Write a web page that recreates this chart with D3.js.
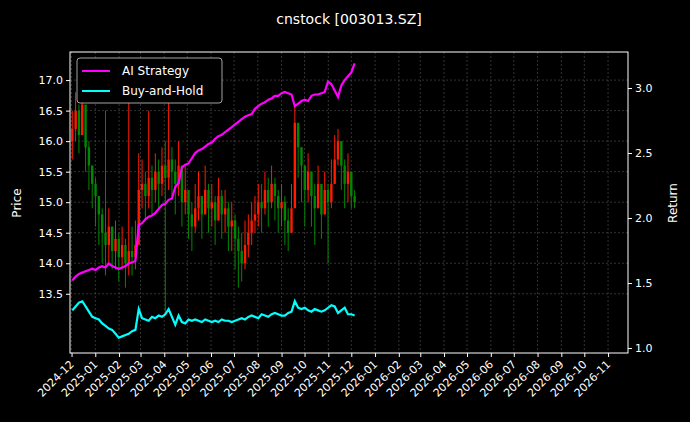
<!DOCTYPE html>
<html><head><meta charset="utf-8">
<script src="https://cdn.jsdelivr.net/npm/d3@7"></script>
<style>body{margin:0;background:#000}svg{display:block}text{font-family:"DejaVu Sans",sans-serif;fill:#fff}</style>
</head><body><svg id="c" width="690" height="422"></svg>
<script>
const startDate = "2024-12-02";
const stepHours = 104;
const closes = [16.2,16.5,16.1,16.6,15.9,15.6,15.3,15.1,14.8,14.5,14.3,14.6,14.2,14.4,14.1,14.3,14.0,14.2,14.1,14.3,15.2,15.3,15.1,15.4,15.2,15.5,15.3,15.6,15.4,15.7,15.5,15.3,15.6,15.0,15.2,14.8,14.6,14.9,15.1,14.8,15.2,14.9,15.0,14.7,15.1,14.8,14.9,14.6,14.7,14.4,14.2,14.0,14.3,14.5,14.7,14.8,15.0,14.9,15.2,15.0,15.3,15.1,14.9,15.0,14.7,14.5,14.9,16.3,15.9,15.6,15.2,15.5,15.1,14.9,15.3,14.8,15.2,15.0,15.3,15.7,16.0,15.6,15.3,15.5,15.1,15.0];
const highs = [16.5,16.8,16.6,16.9,16.2,16.0,15.6,15.4,15.1,14.9,16.5,14.9,14.6,14.7,14.5,14.6,14.4,16.8,14.6,14.7,15.8,15.7,15.5,16.5,15.6,15.8,15.7,15.9,16.0,17.3,15.9,15.7,16.0,15.5,15.6,15.2,15.0,15.3,15.5,15.1,15.6,15.3,15.3,15.1,15.4,15.2,15.2,15.0,15.0,14.8,14.6,14.5,14.7,14.8,15.0,15.1,15.3,15.3,15.5,15.4,15.6,15.4,15.2,15.3,15.1,14.9,15.3,16.6,16.2,15.9,15.5,15.8,15.4,15.3,15.6,15.2,15.5,15.3,15.7,16.1,16.2,15.9,15.7,15.8,15.4,15.2];
const lows = [15.7,16.0,15.8,16.1,15.5,15.2,14.9,14.6,14.3,14.0,13.8,14.0,13.9,13.9,13.7,13.9,13.6,13.8,13.8,13.9,14.8,14.9,14.7,14.9,14.8,15.0,14.9,15.1,13.2,15.2,15.1,14.8,15.1,14.6,14.8,14.4,14.2,14.5,14.7,14.4,14.8,14.5,14.6,14.3,14.7,14.4,14.5,14.2,14.2,13.9,13.6,13.7,13.9,14.1,14.3,14.5,14.6,14.5,14.8,14.6,14.9,14.7,14.5,14.6,14.3,14.2,14.5,15.8,15.4,15.0,14.6,15.0,14.6,14.3,14.9,14.4,14.8,14.0,14.9,15.3,15.6,15.2,14.9,15.0,14.9,14.9];
const strategy = [1.52,1.55,1.57,1.58,1.59,1.60,1.61,1.60,1.62,1.63,1.62,1.65,1.63,1.62,1.61,1.62,1.63,1.65,1.66,1.67,1.95,1.96,1.99,2.01,2.02,2.04,2.07,2.10,2.11,2.14,2.15,2.24,2.27,2.39,2.41,2.42,2.46,2.50,2.52,2.53,2.55,2.57,2.58,2.61,2.63,2.64,2.66,2.68,2.70,2.72,2.74,2.76,2.78,2.79,2.80,2.84,2.86,2.88,2.89,2.91,2.92,2.94,2.94,2.96,2.97,2.96,2.95,2.86,2.88,2.90,2.91,2.90,2.94,2.95,2.95,2.96,2.97,3.05,3.03,2.98,2.93,3.02,3.06,3.09,3.12,3.19];
const buyHold = [1.29,1.32,1.35,1.36,1.32,1.28,1.24,1.23,1.22,1.19,1.17,1.15,1.14,1.11,1.08,1.09,1.10,1.11,1.13,1.14,1.30,1.23,1.22,1.21,1.24,1.23,1.25,1.24,1.26,1.30,1.24,1.18,1.25,1.20,1.19,1.22,1.21,1.22,1.21,1.20,1.22,1.21,1.20,1.21,1.20,1.22,1.21,1.21,1.20,1.21,1.22,1.23,1.22,1.24,1.25,1.24,1.23,1.26,1.25,1.24,1.26,1.27,1.26,1.25,1.25,1.27,1.28,1.36,1.31,1.30,1.31,1.29,1.28,1.30,1.29,1.28,1.29,1.31,1.33,1.32,1.27,1.29,1.31,1.26,1.26,1.25];
const priceTicks = [13.5,14.0,14.5,15.0,15.5,16.0,16.5,17.0];
const returnTicks = [1.0,1.5,2.0,2.5,3.0];
const xDomain = ["2024-11-29","2026-11-27"];

const parse = d3.timeParse("%Y-%m-%d");
const t0 = parse(startDate);
const dates = closes.map((_, i) => d3.timeHour.offset(t0, i * stepHours));
const L=70,R=628,T=52,B=353;
const svg = d3.select("#c");
svg.append("rect").attr("width",690).attr("height",422).attr("fill","#000");
const x = d3.scaleTime().domain(xDomain.map(parse)).range([L,R]);
const y = d3.scaleLinear().domain([12.53,17.46]).range([B,T]);
const y2 = d3.scaleLinear().domain([0.962,3.277]).range([B,T]);
const months = d3.timeMonth.range(parse("2024-12-01"), parse("2026-11-02"));

const g = svg.append("g");
g.selectAll(".vx").data(months).join("line").attr("x1",d=>x(d)).attr("x2",d=>x(d)).attr("y1",T).attr("y2",B)
 .attr("stroke","#555").attr("stroke-width",0.6).attr("stroke-dasharray","2,2");
g.selectAll(".hy").data(priceTicks).join("line").attr("x1",L).attr("x2",R).attr("y1",d=>y(d)).attr("y2",d=>y(d))
 .attr("stroke","#555").attr("stroke-width",0.6).attr("stroke-dasharray","2,2");

const cg = svg.append("g");
closes.forEach((c,i)=>{
  const o = i===0 ? c-0.2 : closes[i-1];
  const col = c>=o ? "#ff1a00" : "#008800";
  const cx = x(dates[i]);
  cg.append("line").attr("x1",cx).attr("x2",cx).attr("y1",y(highs[i])).attr("y2",y(lows[i])).attr("stroke",col).attr("stroke-width",1);
  cg.append("rect").attr("x",cx-1.2).attr("width",2.4).attr("y",y(Math.max(o,c))).attr("height",Math.max(1,Math.abs(y(o)-y(c)))).attr("fill",col);
});

const ln = d3.line().x((d,i)=>x(dates[i])).y(d=>y2(d));
svg.append("path").datum(strategy).attr("d",ln).attr("fill","none").attr("stroke","#ff00ff").attr("stroke-width",2.2);
svg.append("path").datum(buyHold).attr("d",ln).attr("fill","none").attr("stroke","#00ffff").attr("stroke-width",2.2);

const ax = svg.append("g").attr("transform",`translate(0,${B})`).call(d3.axisBottom(x).tickValues(months).tickFormat(d3.timeFormat("%Y-%m")).tickSize(4));
ax.selectAll("text").attr("transform","rotate(-45)").attr("text-anchor","end").attr("dx","-0.6em").attr("dy","0.3em").attr("font-size",11);
const ay = svg.append("g").attr("transform",`translate(${L},0)`).call(d3.axisLeft(y).tickValues(priceTicks).tickFormat(d3.format(".1f")).tickSize(4));
ay.selectAll("text").attr("font-size",11);
const ay2 = svg.append("g").attr("transform",`translate(${R},0)`).call(d3.axisRight(y2).tickValues(returnTicks).tickFormat(d3.format(".1f")).tickSize(4));
ay2.selectAll("text").attr("font-size",11);
svg.selectAll(".domain").remove();
svg.selectAll(".tick line").attr("stroke","#fff");
svg.selectAll(".tick text").attr("fill","#fff");
svg.append("rect").attr("x",L).attr("y",T).attr("width",R-L).attr("height",B-T).attr("fill","none").attr("stroke","#fff").attr("stroke-width",1);

svg.append("text").attr("x",349).attr("y",24).attr("text-anchor","middle").attr("font-size",14).text("cnstock [003013.SZ]");
svg.append("text").attr("transform","translate(21,203) rotate(-90)").attr("text-anchor","middle").attr("font-size",12).text("Price");
svg.append("text").attr("transform","translate(677,203) rotate(-90)").attr("text-anchor","middle").attr("font-size",12).text("Return");

const lg = svg.append("g");
lg.append("rect").attr("x",77).attr("y",58).attr("width",145).attr("height",45).attr("rx",3).attr("fill","#000").attr("stroke","#ccc").attr("stroke-width",0.8);
[["AI Strategy","#ff00ff"],["Buy-and-Hold","#00ffff"]].forEach((d,i)=>{
  const yy = 71 + i*20;
  lg.append("line").attr("x1",82).attr("x2",110).attr("y1",yy).attr("y2",yy).attr("stroke",d[1]).attr("stroke-width",2);
  lg.append("text").attr("x",122).attr("y",yy+4).attr("font-size",12).text(d[0]);
});
</script></body></html>
